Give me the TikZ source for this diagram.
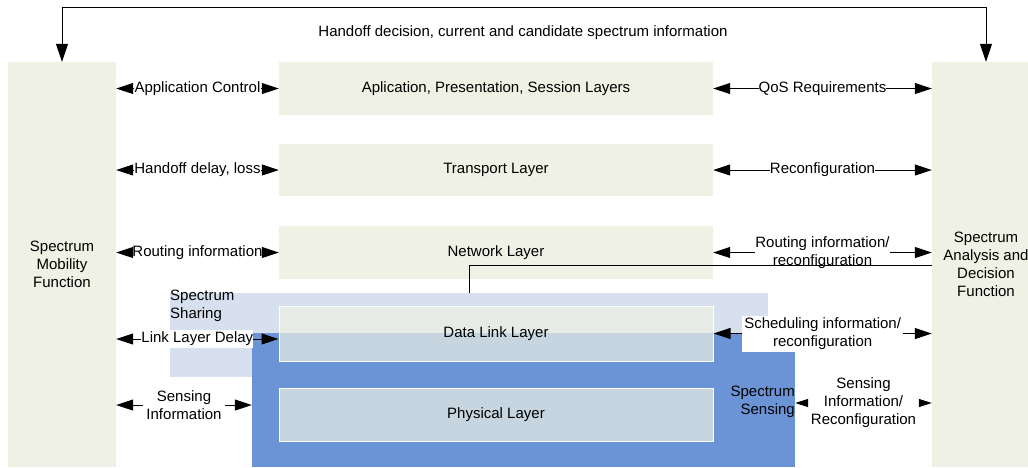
\documentclass[tikz,border=0pt]{standalone}
\usepackage{fontspec}
\setmainfont{Liberation Sans}
\usetikzlibrary{arrows.meta}
\definecolor{beige}{HTML}{EEF1E3}
\definecolor{ltblue}{HTML}{D7E0EF}
\definecolor{dkblue}{HTML}{6B94D6}
\begin{document}
\begin{tikzpicture}[x=1pt,y=-1pt,
  font=\fontsize{15}{18}\selectfont,
  column/.style={fill=beige, inner sep=0pt, minimum width=108pt, minimum height=405pt, align=center},
  layer/.style={fill=beige, inner sep=0pt, minimum width=434pt, align=center},
  lowlayer/.style={layer, fill opacity=0.7, text opacity=1, draw=white, line width=1pt},
  lbl/.style={fill=white, inner xsep=0pt, inner ysep=2pt, align=center},
  plain/.style={inner sep=0pt, align=center},
  arr/.style={-{Triangle[length=17pt,width=11pt]}, line width=1pt},
  smallarr/.style={-{Triangle[length=13pt,width=8pt]}, line width=1pt},
  toparr/.style={{Triangle[length=18pt,width=12pt]}-{Triangle[length=18pt,width=12pt]}, line width=1pt},
  conn/.style={line width=1pt}]
\useasboundingbox (0,0) rectangle (1028,467);
\fill[white] (0,0) rectangle (1028,467);

% side columns
\node[column] (lcol) at (62,264.5) {Spectrum\\Mobility\\Function};
\node[column] (rcol) at (986,264.5) {Spectrum\\Analysis and\\Decision\\Function};

% upper layers
\node[layer, minimum height=53pt] (appl) at (496,88.5) {Aplication, Presentation, Session Layers};
\node[layer, minimum height=52pt] (trans) at (496,170) {Transport Layer};
\node[layer, minimum height=53pt] (net) at (496,252.5) {Network Layer};

% spectrum sharing and sensing areas
\node[fill=ltblue, inner sep=0pt, minimum width=598pt, minimum height=84pt] (sharing) at (469,335) {};
\node[fill=dkblue, inner sep=0pt, minimum width=543pt, minimum height=134pt] (sensing) at (523.5,400) {};

% lower layers
\node[lowlayer, minimum height=55pt] (dl) at (496,333.5) {Data Link Layer};
\node[lowlayer, minimum height=53pt] (phys) at (496,414.5) {Physical Layer};

\node[plain, align=left, anchor=north west] (sharelbl) at (170,290) {Spectrum\\Sharing};
\node[plain, align=right, anchor=east] (senselbl) at (795,402) {Spectrum\\Sensing};

% endpoints of the side connectors
\coordinate (dly) at (0,339);
\coordinate (sly) at (0,405);
\coordinate (sry) at (0,403);

% left labels
\path (lcol.east |- appl.west) -- node[lbl] (l1) {Application Control} (appl.west);
\path (lcol.east |- trans.west) -- node[lbl] (l2) {Handoff delay, loss} (trans.west);
\path (lcol.east |- net.west) -- node[lbl] (l3) {Routing information} (net.west);
\path (lcol.east |- dly) -- node[lbl] (l4) {Link Layer Delay} (dl.west |- dly);
\path (lcol.east |- sly) -- node[lbl] (l5) {Sensing\\Information} (sensing.west |- sly);

% left arrows
\draw[arr] (l1.west) -- (lcol.east |- appl.west);
\draw[arr] (l1.east) -- (appl.west);
\draw[arr] (l2.west) -- (lcol.east |- trans.west);
\draw[arr] (l2.east) -- (trans.west);
\draw[arr] (l3.west) -- (lcol.east |- net.west);
\draw[arr] (l3.east) -- (net.west);
\draw[arr] (l4.west) -- (lcol.east |- dly);
\draw[arr] (l4.east) -- (dl.west |- dly);
\draw[arr] ([xshift=-3pt]l5.west) -- (lcol.east |- sly);
\draw[arr] ([xshift=3pt]l5.east) -- (sensing.west |- sly);

% right labels
\path (appl.east) -- node[lbl] (r1) {QoS Requirements} (rcol.west |- appl.east);
\path (trans.east) -- node[lbl] (r2) {Reconfiguration} (rcol.west |- trans.east);
\path (net.east) -- node[lbl] (r3) {Routing information/\\reconfiguration} (rcol.west |- net.east);
\path (dl.east) -- node[lbl, inner xsep=2pt] (r4) {Scheduling information/\\reconfiguration} (rcol.west |- dl.east);
\path (sensing.east |- sry) -- node[lbl, inner sep=0pt] (r5) {Sensing\\Information/\\Reconfiguration} (rcol.west |- sry);

% right arrows
\draw[arr] (r1.west) -- (appl.east);
\draw[arr] (r1.east) -- (rcol.west |- appl.east);
\draw[arr] (r2.west) -- (trans.east);
\draw[arr] (r2.east) -- (rcol.west |- trans.east);
\draw[arr] (r3.west) -- (net.east);
\draw[arr] (r3.east) -- (rcol.west |- net.east);
\draw[arr] (r4.west) -- (dl.east);
\draw[arr] (r4.east) -- (rcol.west |- dl.east);
\draw[smallarr] ([xshift=-5pt]r5.west) -- (sensing.east |- sry);
\draw[smallarr] ([xshift=5pt]r5.east) -- (rcol.west |- sry);

% network line from spectrum sharing to decision function
\coordinate (nlbot) at (469,293);
\coordinate (nltop) at (469,265.5);
\draw[conn] (nlbot) -- (nltop) -- (nltop -| rcol.west);

% top handoff arrow
\draw[toparr] (lcol.north) -- ++(0,-54) -| (rcol.north);
\node[plain] (toplbl) at (523,33) {Handoff decision, current and candidate spectrum information};
\end{tikzpicture}
\end{document}
